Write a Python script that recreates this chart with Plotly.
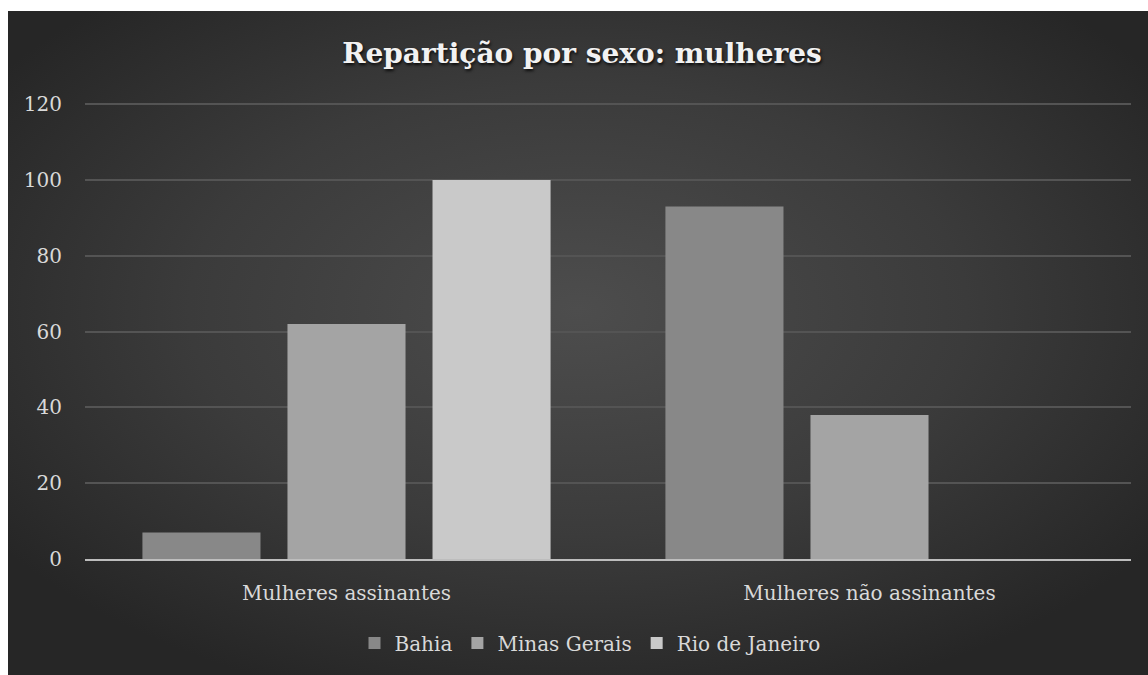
import base64
import plotly.graph_objects as go

# Data
categories = ["Mulheres assinantes", "Mulheres não assinantes"]
bahia = [7, 93]
minas_gerais = [62, 38]
rio_de_janeiro = [100, 0]
y_ticks = [0, 20, 40, 60, 80, 100, 120]

W, H = 1148, 675
L, R, T, B = 85, 17, 103, 116
plot_w = W - L - R
plot_h = H - T - B

FONT = "DejaVu Serif"
TXT = "#d9d9d9"

# Dark radial-gradient panel behind the chart
svg = (
    '<svg xmlns="http://www.w3.org/2000/svg" width="1140" height="664" '
    'preserveAspectRatio="none" viewBox="0 0 1140 664">'
    '<defs><radialGradient id="g" cx="0.5" cy="0.45" r="0.62">'
    '<stop offset="0" stop-color="#4d4d4d"/>'
    '<stop offset="0.55" stop-color="#3b3b3b"/>'
    '<stop offset="1" stop-color="#262626"/>'
    '</radialGradient></defs>'
    '<rect width="1140" height="664" fill="url(#g)"/></svg>'
)
bg_src = "data:image/svg+xml;base64," + base64.b64encode(svg.encode()).decode()

def px_to_paper_x(px):
    return (px - L) / plot_w

def px_to_paper_y(py):
    return (H - B - py) / plot_h

fig = go.Figure()
series = [
    ("Bahia", bahia, "#888888"),
    ("Minas Gerais", minas_gerais, "#a4a4a4"),
    ("Rio de Janeiro", rio_de_janeiro, "#c9c9c9"),
]
for name, vals, col in series:
    fig.add_trace(go.Bar(
        name=name, x=categories, y=vals,
        marker=dict(color=col, line=dict(width=0)),
        hoverinfo="skip",
    ))

fig.update_layout(
    width=W, height=H,
    margin=dict(l=L, r=R, t=T, b=B, pad=0),
    paper_bgcolor="white",
    plot_bgcolor="rgba(0,0,0,0)",
    barmode="group",
    bargap=0.168,
    bargroupgap=0.186,
    title=dict(
        text="<b>Repartição por sexo: mulheres</b>",
        x=0.507, xanchor="center", xref="container",
        y=1 - 53 / H, yanchor="middle", yref="container",
        font=dict(family=FONT, size=28, color="#f2f2f2",
                  shadow="1px 2px 3px rgba(0,0,0,0.8)"),
    ),
    font=dict(family=FONT, size=20, color=TXT),
    showlegend=True,
    legend=dict(
        orientation="h",
        x=px_to_paper_x(590), xanchor="center",
        y=px_to_paper_y(643), yanchor="middle",
        font=dict(family=FONT, size=20, color=TXT),
        bgcolor="rgba(0,0,0,0)",
        itemwidth=30,
        traceorder="normal",
    ),
    xaxis=dict(
        showgrid=False,
        showline=True, linecolor="#bdbdbd", linewidth=2,
        ticks="", tickfont=dict(family=FONT, size=20, color=TXT),
        ticklabelstandoff=15,
        fixedrange=True,
    ),
    yaxis=dict(
        range=[0, 120.3],
        tickvals=y_ticks,
        ticktext=[str(v) for v in y_ticks],
        showgrid=True, gridcolor="#545454", gridwidth=1.5,
        zeroline=False, showline=False, ticks="",
        tickfont=dict(family=FONT, size=20, color=TXT),
        ticklabelstandoff=22,
        fixedrange=True,
    ),
    images=[dict(
        source=bg_src, xref="paper", yref="paper",
        x=px_to_paper_x(8), y=px_to_paper_y(11),
        sizex=(W - 8) / plot_w, sizey=(H - 11) / plot_h,
        xanchor="left", yanchor="top", sizing="stretch", layer="below",
    )],
)

fig.write_html("out.html")
